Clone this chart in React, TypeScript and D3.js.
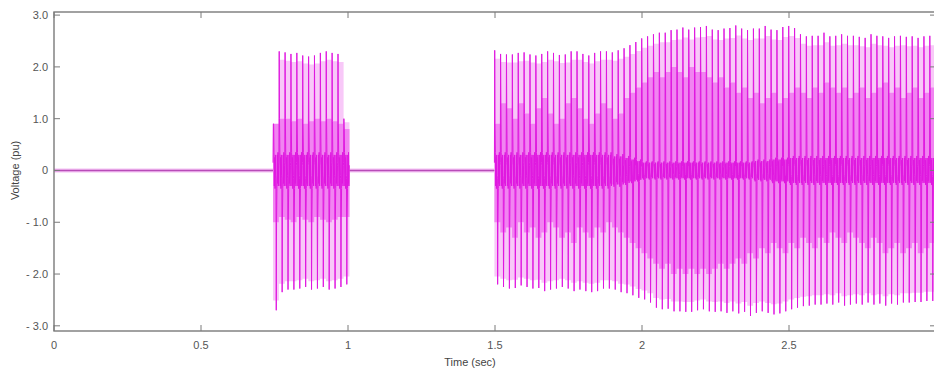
import React, { useEffect, useRef } from "react";
import * as d3 from "d3";

// 50 Hz waveform, one entry per cycle (peak values)
const period = 0.02;

// first burst 0.75 - 1.0 s
const burstAStart = 0.745;
const upperA = [0.9, 2.3, 2.28, 2.25, 2.27, 2.22, 2.2, 2.22, 2.27, 2.3, 2.27, 2.25, 1.0];
const lowerA = [-2.7, -2.35, -2.3, -2.3, -2.28, -2.25, -2.3, -2.28, -2.25, -2.3, -2.28, -2.25, -2.2];
const innerHiA = [0.9, 1.0, 1.0, 0.95, 1.0, 0.9, 0.95, 1.0, 0.95, 1.0, 0.95, 0.9, 0.8];
const innerLoA = [-1.0, -0.9, -0.95, -1.0, -0.9, -0.95, -1.0, -0.9, -0.95, -1.0, -0.95, -0.9, -0.9];
const rippleA = [1, 1, 1, 1, 1, 1, 1, 1, 1, 1, 1, 1, 1];

// second burst 1.5 - 3.0 s
const burstBStart = 1.498;
const upperB = [
  2.32, 2.25, 2.24, 2.24, 2.27, 2.28, 2.24, 2.22, 2.25, 2.3,
  2.27, 2.23, 2.24, 2.3, 2.3, 2.25, 2.22, 2.27, 2.3, 2.3,
  2.28, 2.32, 2.36, 2.42, 2.48,
  2.55, 2.59, 2.63, 2.66, 2.66, 2.71, 2.72, 2.76, 2.72, 2.76,
  2.77, 2.79, 2.72, 2.71, 2.74, 2.75, 2.8, 2.74, 2.71, 2.74,
  2.74, 2.79, 2.72, 2.71, 2.77, 2.79, 2.75, 2.63, 2.59, 2.6,
  2.6, 2.66, 2.59, 2.6, 2.63, 2.6, 2.6, 2.58, 2.56, 2.63,
  2.6, 2.59, 2.56, 2.59, 2.6, 2.58, 2.59, 2.56, 2.59, 2.6,
];
const lowerB = [
  -2.2, -2.25, -2.28, -2.27, -2.22, -2.25, -2.28, -2.27, -2.33, -2.3,
  -2.28, -2.25, -2.28, -2.33, -2.3, -2.33, -2.35, -2.33, -2.28, -2.28,
  -2.3, -2.35, -2.37, -2.41, -2.46, -2.49, -2.55, -2.65, -2.68, -2.67,
  -2.72, -2.72, -2.73, -2.73, -2.7,
  -2.68, -2.72, -2.73, -2.72, -2.75, -2.72, -2.76, -2.73, -2.81, -2.75,
  -2.72, -2.75, -2.78, -2.76, -2.72, -2.68, -2.65, -2.62, -2.61, -2.59,
  -2.59, -2.57, -2.59, -2.55, -2.61, -2.59, -2.57, -2.59, -2.55, -2.59,
  -2.57, -2.61, -2.57, -2.59, -2.55, -2.55, -2.54, -2.54, -2.52, -2.52,
];
const innerHiB = [
  0.9, 1.3, 1.2, 1.0, 1.3, 1.1, 0.9, 1.2, 1.4, 1.1,
  0.9, 1.0, 1.3, 1.4, 1.2, 1.0, 0.9, 1.1, 1.3, 1.2,
  1.0, 1.1, 1.4, 1.5, 1.6,
  1.7, 1.8, 1.9, 1.8, 1.9, 2.0, 1.9, 1.8, 2.0, 1.9,
  1.9, 1.8, 1.7, 1.8, 1.6, 1.7, 1.5, 1.6, 1.4, 1.5,
  1.3, 1.4, 1.5, 1.3, 1.4, 1.5, 1.6, 1.5, 1.4, 1.6,
  1.5, 1.7, 1.6, 1.5, 1.6, 1.4, 1.5, 1.6, 1.4, 1.5,
  1.6, 1.7, 1.5, 1.6, 1.4, 1.5, 1.6, 1.4, 1.5, 1.6,
];
const innerLoB = [
  -1.0, -1.2, -1.1, -1.3, -1.0, -1.2, -1.1, -1.3, -1.2, -1.0,
  -1.1, -1.3, -1.2, -1.4, -1.1, -1.2, -1.3, -1.1, -1.2, -1.0,
  -1.1, -1.2, -1.3, -1.4, -1.5,
  -1.6, -1.7, -1.8, -1.9, -1.8, -2.0, -1.9, -2.0, -1.9, -2.0,
  -1.9, -2.0, -1.9, -1.8, -1.9, -1.8, -1.7, -1.8, -1.6, -1.7,
  -1.5, -1.6, -1.4, -1.5, -1.6, -1.4, -1.5, -1.3, -1.4, -1.5,
  -1.3, -1.4, -1.2, -1.3, -1.4, -1.2, -1.3, -1.4, -1.5, -1.3,
  -1.4, -1.6, -1.5, -1.4, -1.6, -1.5, -1.4, -1.6, -1.5, -1.4,
];
// how strong the fast ripple round zero is in each cycle
const rippleB = [
  1, 1, 1, 1, 1, 1, 1, 1, 1, 1,
  1, 1, 1, 1, 1, 1, 1, 1, 1, 1,
  0.9, 0.9, 0.8, 0.7, 0.6,
  0.5, 0.5, 0.5, 0.5, 0.5, 0.5, 0.5, 0.5, 0.5, 0.5,
  0.5, 0.5, 0.5, 0.5, 0.5, 0.5, 0.5, 0.5, 0.5, 0.6,
  0.6, 0.6, 0.7, 0.7, 0.7, 0.8, 0.8, 0.8, 0.8, 0.8,
  0.8, 0.8, 0.8, 0.8, 0.8, 0.8, 0.8, 0.8, 0.8, 0.8,
  0.8, 0.8, 0.8, 0.8, 0.8, 0.8, 0.8, 0.8, 0.8, 0.8,
];

// shape of one cycle: [phase, value] where value is a ripple level or a peak key
const cycleShape: [number, number | string][] = [
  [0.0, 0.15], [0.05, "U"], [0.1, "H"], [0.16, 0.35], [0.22, -0.3],
  [0.28, 0.25], [0.34, -0.35], [0.4, 0.3], [0.46, -0.1],
  [0.5, -0.15], [0.55, "L"], [0.6, "W"], [0.66, -0.35], [0.72, 0.3],
  [0.78, -0.25], [0.84, 0.35], [0.9, -0.3], [0.96, 0.1],
];

// zero line where the voltage is off
const flatSegments = [[0, burstAStart], [burstAStart + upperA.length * period, burstBStart]];

const xTicks = [0, 0.5, 1, 1.5, 2, 2.5];
const xTickLabels = ["0", "0.5", "1", "1.5", "2", "2.5"];
const yTicks = [3, 2, 1, 0, -1, -2, -3];
const yTickLabels = ["3.0", "2.0", "1.0", "0", "- 1.0", "- 2.0", "- 3.0"];

const font = "'Liberation Sans Narrow', 'Arial Narrow', 'Liberation Sans', Arial, sans-serif";

type Env = { t: number; u: number; l: number };

const App: React.FC = () => {
  const svgRef = useRef<SVGSVGElement | null>(null);

  useEffect(() => {
    const width = 934;
    const height = 372;
    const left = 54;
    const right = 936;
    const top = 12;
    const bottom = 331;

    const x = d3.scaleLinear().domain([0, 3]).range([left, right]);
    const y = d3.scaleLinear().domain([-3.1, 3.06]).range([bottom, top]);

    const svg = d3.select(svgRef.current);
    svg.selectAll("*").remove();
    svg.attr("width", width).attr("height", height).attr("viewBox", [0, 0, width, height]);

    svg.append("rect").attr("width", width).attr("height", height).attr("fill", "#fff");

    // build the waveform points for a burst
    function burst(start: number, up: number[], lo: number[], hi: number[], lw: number[], rp: number[]) {
      const pts: [number, number][] = [];
      up.forEach((_, i) => {
        const t0 = start + i * period;
        cycleShape.forEach(([ph, v]) => {
          let val: number;
          if (v === "U") val = up[i];
          else if (v === "L") val = lo[i];
          else if (v === "H") val = hi[i];
          else if (v === "W") val = lw[i];
          else val = (v as number) * rp[i];
          pts.push([t0 + ph * period, val]);
        });
      });
      return pts;
    }

    const bursts = [
      { start: burstAStart, up: upperA, lo: lowerA, hi: innerHiA, lw: innerLoA, rp: rippleA },
      { start: burstBStart, up: upperB, lo: lowerB, hi: innerHiB, lw: innerLoB, rp: rippleB },
    ];

    const plot = svg.append("g");

    const band = d3
      .area<Env>()
      .x((d) => x(d.t))
      .y0((d) => y(d.l))
      .y1((d) => y(d.u))
      .curve(d3.curveStepAfter);

    // pinkish haze between the spikes
    bursts.forEach((b) => {
      const n = b.up.length;
      const env: Env[] = b.up.map((u, i) => ({ t: b.start + i * period, u: u * 0.93, l: b.lo[i] * 0.93 }));
      env.push({ t: b.start + n * period, u: env[n - 1].u, l: env[n - 1].l });
      plot.append("path").datum(env).attr("d", band).attr("fill", "#f8c8f8");

      const inner: Env[] = b.hi.map((h, i) => ({ t: b.start + i * period, u: h, l: b.lw[i] }));
      inner.push({ t: b.start + n * period, u: inner[n - 1].u, l: inner[n - 1].l });
      plot.append("path").datum(inner).attr("d", band).attr("fill", "#f184f1");
    });

    const line = d3
      .line<[number, number]>()
      .x((d) => x(d[0]))
      .y((d) => y(d[1]));

    flatSegments.forEach(([a, b]) => {
      const seg = [[a, 0], [b, 0]] as [number, number][];
      plot.append("path").datum(seg).attr("d", line)
        .attr("stroke", "#f4c0f4").attr("stroke-width", 4).attr("fill", "none");
      plot.append("path").datum(seg).attr("d", line)
        .attr("stroke", "#b84cb8").attr("stroke-width", 1.6).attr("fill", "none");
    });

    bursts.forEach((b) => {
      plot
        .append("path")
        .datum(burst(b.start, b.up, b.lo, b.hi, b.lw, b.rp))
        .attr("d", line)
        .attr("stroke", "#e018e0")
        .attr("stroke-width", 1)
        .attr("fill", "none");
    });

    // frame
    const axisColor = "#7a7a7a";
    svg
      .append("rect")
      .attr("x", left)
      .attr("y", top)
      .attr("width", right - left)
      .attr("height", bottom - top)
      .attr("fill", "none")
      .attr("stroke", axisColor)
      .attr("stroke-width", 1.4);

    const gx = svg.append("g");
    xTicks.forEach((t, i) => {
      gx.append("line")
        .attr("x1", x(t)).attr("x2", x(t))
        .attr("y1", bottom).attr("y2", bottom - 6)
        .attr("stroke", axisColor);
      gx.append("line")
        .attr("x1", x(t)).attr("x2", x(t))
        .attr("y1", top).attr("y2", top + 6)
        .attr("stroke", axisColor);
      gx.append("text")
        .attr("x", x(t))
        .attr("y", bottom + 18)
        .attr("text-anchor", "middle")
        .attr("font-family", font)
        .attr("font-size", 11)
        .attr("fill", "#555")
        .text(xTickLabels[i]);
    });

    const gy = svg.append("g");
    yTicks.forEach((t, i) => {
      gy.append("line")
        .attr("x1", left).attr("x2", left + 6)
        .attr("y1", y(t)).attr("y2", y(t))
        .attr("stroke", axisColor);
      gy.append("line")
        .attr("x1", right).attr("x2", right - 6)
        .attr("y1", y(t)).attr("y2", y(t))
        .attr("stroke", axisColor);
      gy.append("text")
        .attr("x", left - 6)
        .attr("y", y(t))
        .attr("dy", "0.35em")
        .attr("text-anchor", "end")
        .attr("font-family", font)
        .attr("font-size", 11)
        .attr("fill", "#555")
        .text(yTickLabels[i]);
    });

    svg
      .append("text")
      .attr("x", 470)
      .attr("y", 366)
      .attr("text-anchor", "middle")
      .attr("font-family", font)
      .attr("font-size", 11)
      .attr("fill", "#444")
      .text("Time (sec)");

    svg
      .append("text")
      .attr("transform", `translate(19,${y(0)}) rotate(-90)`)
      .attr("text-anchor", "middle")
      .attr("font-family", font)
      .attr("font-size", 11)
      .attr("fill", "#444")
      .text("Voltage (pu)");
  }, []);

  return (
    <div style={{ position: "absolute", left: 0, top: 0 }}>
      <svg ref={svgRef} style={{ display: "block" }}></svg>
    </div>
  );
};

export default App;
